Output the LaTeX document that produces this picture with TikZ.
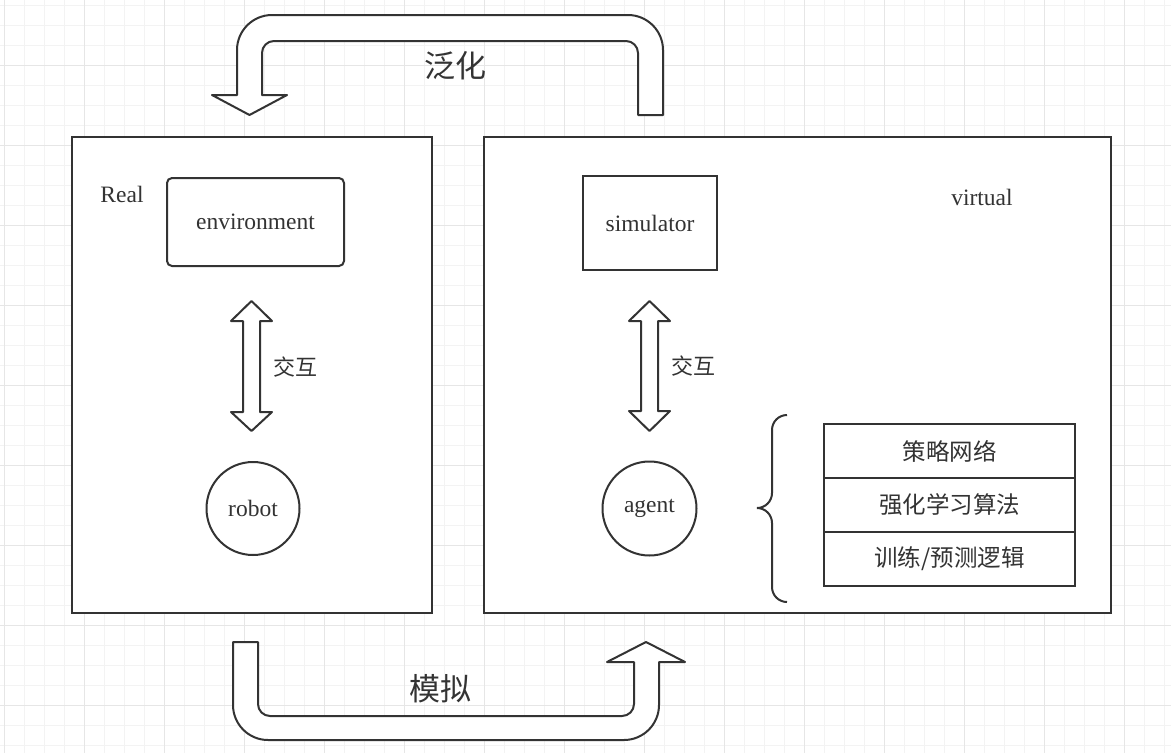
\documentclass[tikz,border=0pt]{standalone}
\usepackage{fontspec}
\setmainfont{Liberation Serif}
\newfontfamily\cjk{Noto Sans CJK SC}
\definecolor{ink}{HTML}{333333}
\definecolor{gridminor}{HTML}{F3F3F3}
\definecolor{gridmajor}{HTML}{E6E6E6}
\begin{document}
\begin{tikzpicture}[x=1pt,y=-1pt,
  frame/.style={draw=ink, line width=2pt, fill=white},
  box/.style={draw=ink, line width=2pt, fill=white, inner sep=0pt, text=ink, font=\fontsize{23.5}{28}\selectfont},
  word/.style={text=ink, inner sep=0pt, font=\fontsize{23.5}{28}\selectfont},
  zh/.style={text=ink, inner sep=0pt, font=\cjk\fontsize{22}{26}\selectfont},
  bigzh/.style={text=ink, inner sep=0pt, font=\cjk\fontsize{31}{36}\selectfont},
  fat/.style={draw=ink, line width=2pt, fill=white, line join=round}]
\useasboundingbox (0,0) rectangle (1171,753);
\foreach \x in {4,24,...,1171} \draw[gridminor, line width=1pt] (\x,0) -- (\x,753);
\foreach \y in {5,25,...,753} \draw[gridminor, line width=1pt] (0,\y) -- (1171,\y);
\foreach \x in {4,84,...,1171} \draw[gridmajor, line width=1pt] (\x,0) -- (\x,753);
\foreach \y in {65,145,...,753} \draw[gridmajor, line width=1pt] (0,\y) -- (1171,\y);

\draw[frame] (72,137) rectangle (432,613);
\draw[frame] (484,137) rectangle (1111,613);

\node[word] (real) at (122,194) {Real};
\node[word] (virtual) at (982,197) {virtual};
\node[box, rounded corners=5pt, minimum width=177, minimum height=88] (env) at (255.5,222) {environment};
\node[box, minimum width=134, minimum height=94] (sim) at (650,223) {simulator};
\node[box, circle, minimum size=93] (robot) at (253,508.5) {robot};
\node[box, circle, minimum size=94] (agent) at (649.5,508.5) {agent};

\draw[fat] (251.5,301) -- (272,321) -- (260,321) -- (260,412) -- (272,412) -- (251.5,431)
  -- (231,412) -- (243,412) -- (243,321) -- (231,321) -- cycle;
\draw[fat] (649.5,301) -- (670,321) -- (658,321) -- (658,411) -- (670,411) -- (649.5,431)
  -- (629,411) -- (641,411) -- (641,321) -- (629,321) -- cycle;
\node[zh] (talkl) at (295,367) {交互};
\node[zh] (talkr) at (693,366) {交互};

\node[box, outer sep=0pt, minimum width=251, minimum height=54] (net) at (949.5,451) {\cjk 策略网络};
\node[box, outer sep=0pt, minimum width=251, minimum height=54, anchor=north] (algo) at (net.south) {\cjk 强化学习算法};
\node[box, outer sep=0pt, minimum width=251, minimum height=54, anchor=north] (loop) at (algo.south) {\cjk 训练/预测逻辑};
\draw[draw=ink, line width=2pt] (787,415) .. controls (778.7,415) and (772,421.7) .. (772,430) -- (772,493)
  .. controls (772,501.3) and (765.3,508) .. (757,508) .. controls (765.3,508) and (772,514.7) .. (772,523)
  -- (772,587) .. controls (772,595.3) and (778.7,602) .. (787,602);

\draw[fat] (663,115) -- (663,50) .. controls (663,30.7) and (647.3,15) .. (628,15) -- (272,15)
  .. controls (252.7,15) and (237,30.7) .. (237,50) -- (237,95) -- (212,95) -- (249.5,115) -- (287,95)
  -- (262,95) -- (262,53) .. controls (262,46.4) and (267.4,41) .. (274,41) -- (626,41)
  .. controls (632.6,41) and (638,46.4) .. (638,53) -- (638,115) -- cycle;
\node[bigzh] (general) at (455,66) {泛化};

\draw[fat] (233,642) -- (233,705) .. controls (233,724.3) and (248.7,740) .. (268,740) -- (624,740)
  .. controls (643.3,740) and (659,724.3) .. (659,705) -- (659,662) -- (685,662) -- (646,642) -- (607,662)
  -- (634,662) -- (634,704) .. controls (634,710.6) and (628.6,716) .. (622,716) -- (270,716)
  .. controls (263.4,716) and (258,710.6) .. (258,704) -- (258,642) -- cycle;
\node[bigzh] (imitate) at (440,689) {模拟};
\end{tikzpicture}
\end{document}
